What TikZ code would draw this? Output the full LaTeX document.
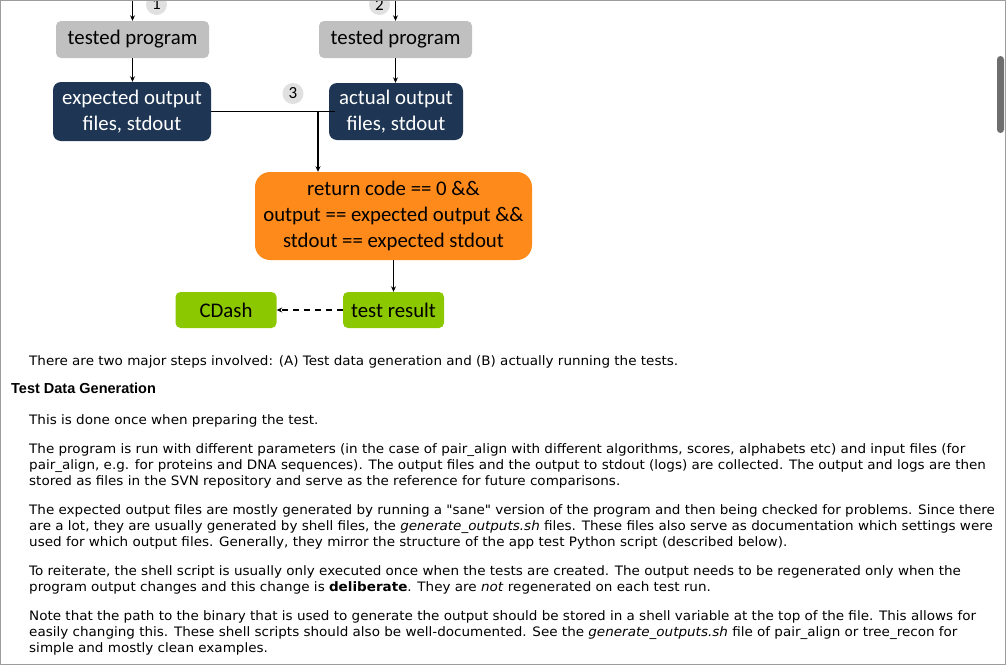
\documentclass[tikz,border=0pt]{standalone}
\usepackage{fontspec}
\setmainfont{Carlito}
\newfontfamily\pagefont[FakeStretch=1.04]{DejaVu Sans}
\newfontfamily\headfont{Liberation Sans}
\usetikzlibrary{positioning,arrows.meta}
\definecolor{progGray}{HTML}{C0C0C0}
\definecolor{outBlue}{HTML}{1E3654}
\definecolor{checkOrange}{HTML}{FF8A1C}
\definecolor{resGreen}{HTML}{8CC800}
\definecolor{numGray}{HTML}{E0E0E0}
\definecolor{frameGray}{HTML}{9C9C9C}
\definecolor{barGray}{HTML}{6E6E6E}
\begin{document}
\begin{tikzpicture}[x=1pt, y=-1pt, line join=round, >={Stealth[length=5.5pt,width=5pt]},
  box/.style={inner sep=0pt, align=center, font=\fontsize{20.8}{26}\selectfont},
  prog/.style={box, fill=progGray, rounded corners=5pt, minimum width=153pt, minimum height=37pt},
  outbox/.style={box, fill=outBlue, text=white, rounded corners=8pt},
  checkbox/.style={box, fill=checkOrange, rounded corners=15pt, minimum width=277pt, minimum height=88pt},
  resbox/.style={box, fill=resGreen, rounded corners=5pt, minimum width=101pt, minimum height=36pt},
  stepnum/.style={circle, fill=numGray, inner sep=0pt, minimum size=21pt, font=\fontsize{17}{17}\selectfont},
  conn/.style={line width=1.9pt},
  txt/.style={anchor=base west, inner sep=0pt, font=\pagefont\fontsize{13}{16}\selectfont}]
  \useasboundingbox (0,0) rectangle (1007,667);
  \fill[white] (0,0) rectangle (1007,667);
  \begin{scope}
    \clip (1,1) rectangle (1005,664);
    % diagram
    \node[stepnum] (num1) at (156.5,4.5) {1};
    \node[stepnum] (num2) at (379.5,4.5) {2};
    \node[stepnum] (num3) at (293,93.5) {3};
    \node[prog] (tested1) at (132.5,39.5) {tested program};
    \node[prog] (tested2) at (395.5,39.5) {tested program};
    \node[outbox, minimum width=158pt, minimum height=59pt] (expected) at (132,111.5) {expected output\\files, stdout};
    \node[outbox, minimum width=134pt, minimum height=57pt] (actual) at (396,111.5) {actual output\\files, stdout};
    \node[checkbox] (check) at (393.5,216) {return code == 0 \&\&\\output == expected output \&\&\\stdout == expected stdout};
    \node[resbox] (result) at (393.5,310) {test result};
    \node[resbox] (cdash) at (226,310) {CDash};
    \coordinate (in1) at (132.5,-2);
    \coordinate (in2) at (395.5,-2);
    \coordinate (join) at (318,111.5);
    \draw[conn,->] (in1) -- (tested1.north);
    \draw[conn,->] (in2) -- (tested2.north);
    \draw[conn,->] (tested1.south) -- (tested1.south |- expected.north);
    \draw[conn,->] (tested2.south) -- (tested2.south |- actual.north);
    \draw[conn] (expected.east) -- ([xshift=6pt]actual.west);
    \draw[conn,->] (join) -- (join |- check.north);
    \draw[conn,->] (check.south) -- (result.north);
    \draw[conn,->,dash pattern=on 6pt off 5pt] (result.west) -- (cdash.east);
  \end{scope}
  % page text
  \node[txt] (intro) at (29,365) {There are two major steps involved: (A) Test data generation and (B) actually running the tests.};
  \node[txt, font=\headfont\bfseries\fontsize{14.5}{16}\selectfont] (head) at (11,393) {Test Data Generation};
  \node[txt] (pa) at (29,424) {This is done once when preparing the test.};
  \node[txt] (pb1) at (29,453) {The program is run with different parameters (in the case of pair\_align with different algorithms, scores, alphabets etc) and input files (for};
  \node[txt] (pb2) at (29,469) {pair\_align, e.g. for proteins and DNA sequences). The output files and the output to stdout (logs) are collected. The output and logs are then};
  \node[txt] (pb3) at (29,485) {stored as files in the SVN repository and serve as the reference for future comparisons.};
  \node[txt] (pc1) at (29,514) {The expected output files are mostly generated by running a "sane" version of the program and then being checked for problems. Since there};
  \node[txt] (pc2) at (29,530) {are a lot, they are usually generated by shell files, the \textit{generate\_outputs.sh} files. These files also serve as documentation which settings were};
  \node[txt] (pc3) at (29,546) {used for which output files. Generally, they mirror the structure of the app test Python script (described below).};
  \node[txt] (pd1) at (29,575) {To reiterate, the shell script is usually only executed once when the tests are created. The output needs to be regenerated only when the};
  \node[txt] (pd2) at (29,591) {program output changes and this change is \textbf{deliberate}. They are \textit{not} regenerated on each test run.};
  \node[txt] (pe1) at (29,620) {Note that the path to the binary that is used to generate the output should be stored in a shell variable at the top of the file. This allows for};
  \node[txt] (pe2) at (29,636) {easily changing this. These shell scripts should also be well-documented. See the \textit{generate\_outputs.sh} file of pair\_align or tree\_recon for};
  \node[txt] (pe3) at (29,652) {simple and mostly clean examples.};
  % window frame and scroll bar
  \fill[barGray, rounded corners=3.5pt] (997,56) rectangle (1004,133);
  \draw[frameGray, line width=1pt] (0.5,0.5) rectangle (1005.5,664.5);
\end{tikzpicture}
\end{document}
